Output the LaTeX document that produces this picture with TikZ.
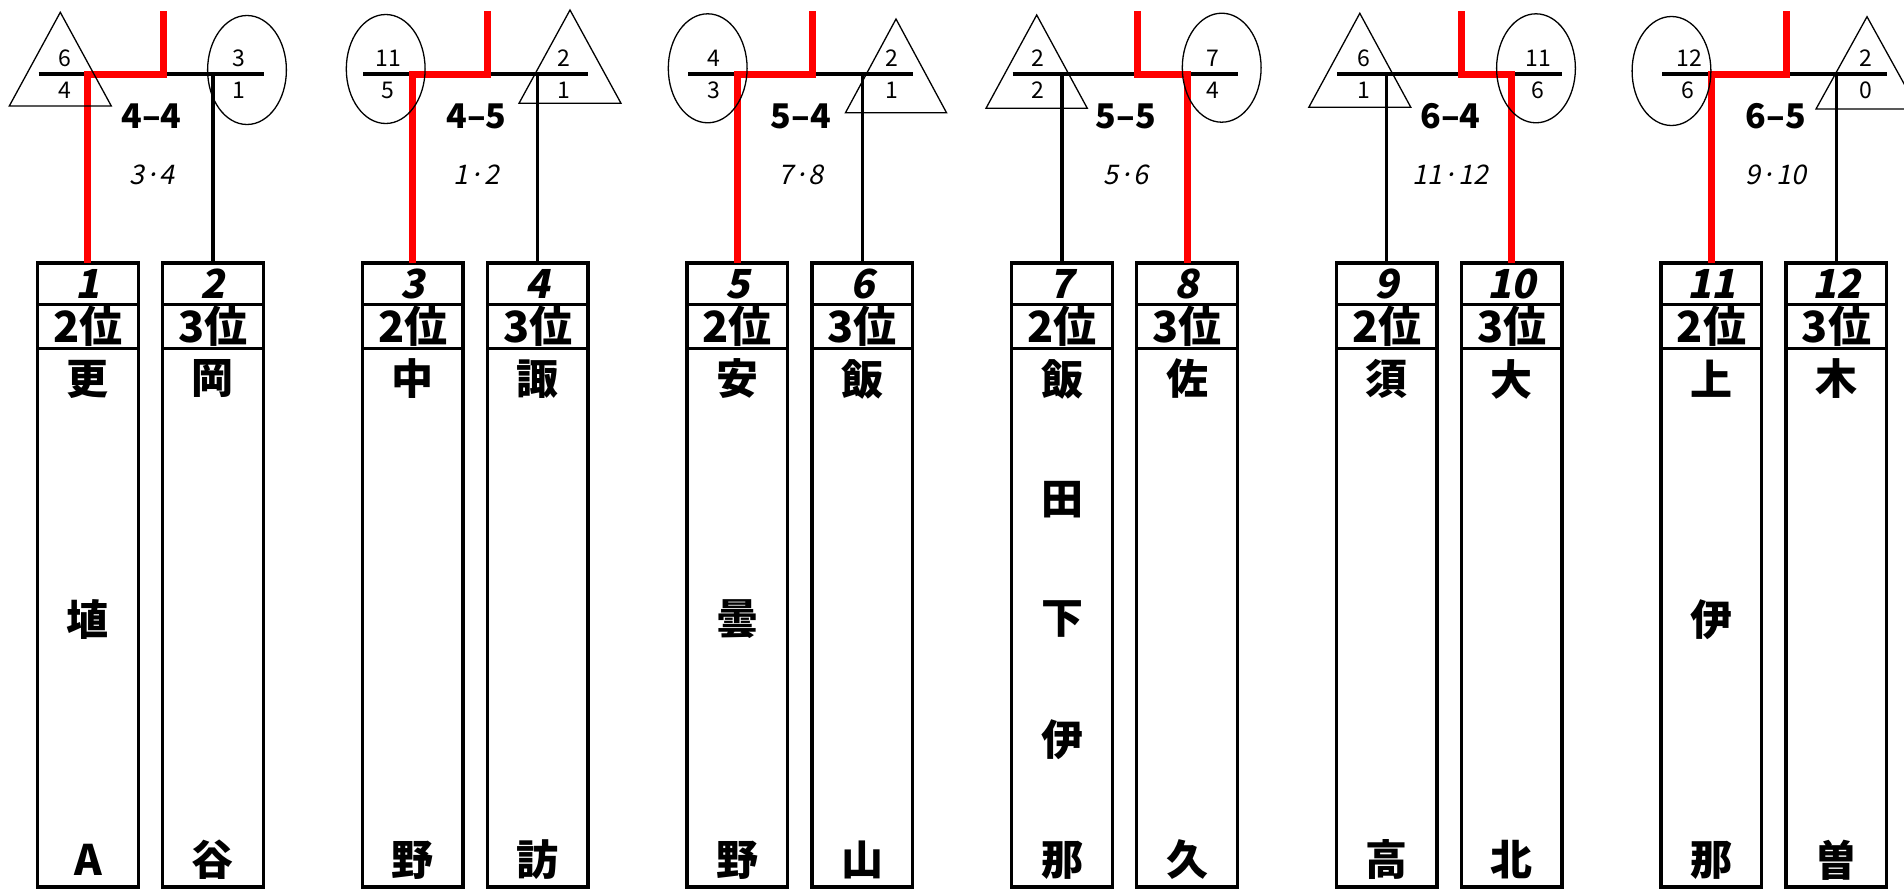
\documentclass[tikz,border=0pt]{standalone}
\usepackage{fontspec}
\newfontfamily\cjk{Noto Sans CJK JP}
\newfontfamily\cjksl{Noto Sans CJK JP}[FakeSlant=0.2]
\begin{document}
\begin{tikzpicture}[x=1pt,y=-1pt,
  blk/.style={line width=3.3pt},
  redl/.style={line width=7pt,red,line join=miter},
  thinl/.style={line width=1.3pt},
  boxl/.style={line width=3.3pt},
  sc/.style={font=\cjk\fontsize{23}{23}\selectfont,inner sep=0pt},
  ml/.style={font=\cjk\bfseries\fontsize{34}{34}\selectfont,inner sep=0pt},
  sl/.style={font=\cjksl\fontsize{27}{27}\selectfont,inner sep=0pt},
  bn/.style={font=\cjksl\bfseries\fontsize{40}{40}\selectfont,inner sep=0pt},
  rk/.style={font=\cjk\bfseries\fontsize{43}{43}\selectfont,inner sep=0pt},
  nm/.style={font=\cjk\bfseries\fontsize{42}{42}\selectfont,inner sep=0pt},
]
\useasboundingbox (0,0) rectangle (1904,889);
% boxes
\foreach \i/\x/\r/\n/\names in {
 1/37.6/2/3/{更,埴,A},
 2/162.6/3/2/{岡,谷},
 3/362.3/2/2/{中,野},
 4/487.3/3/2/{諏,訪},
 5/687.0/2/3/{安,曇,野},
 6/812.0/3/2/{飯,山},
 7/1011.7/2/5/{飯,田,下,伊,那},
 8/1136.7/3/2/{佐,久},
 9/1336.4/2/2/{須,高},
 10/1461.4/3/2/{大,北},
 11/1661.1/2/3/{上,伊,那},
 12/1786.1/3/2/{木,曽}}{
  \draw[boxl] (\x,263) rectangle (\x+100.7,887);
  \draw[boxl] (\x,304.5) -- (\x+100.7,304.5);
  \draw[boxl] (\x,348.7) -- (\x+100.7,348.7);
  \coordinate (top\i) at (\x+50.35,263);
  \node[bn] (num\i) at (\x+50.35,284) {\i};
  \node[rk] (rank\i) at (\x+50.35,326.6) {\r{}位};
  \foreach \c [count=\k] in \names {
    \node[nm] (nm\i-\k) at (\x+50.35,{379+(\k-1)*481/(\n-1)}) {\c};
  }
}
% bracket joints
\foreach \g/\L in {1/37.6,2/362.3,3/687.0,4/1011.7,5/1336.4,6/1661.1}{
  \coordinate (jl\g) at (\L+1,74);
  \coordinate (jr\g) at (\L+226,74);
  \coordinate (ja\g) at (\L+50.35,74);
  \coordinate (jb\g) at (\L+175.35,74);
  \coordinate (rt\g) at (\L+125.5,11);
  \coordinate (rm\g) at (\L+125.5,74);
  \draw[blk] (jl\g) -- (jr\g);
}
% losers (black)
\draw[blk] (jb1) -- (top2);
\draw[blk] (jb2) -- (top4);
\draw[blk] (jb3) -- (top6);
\draw[blk] (ja4) -- (top7);
\draw[blk] (ja5) -- (top9);
\draw[blk] (jb6) -- (top12);
% winners (red)
\draw[redl] (rt1) -- (rm1) -- (ja1) -- (top1);
\draw[redl] (rt2) -- (rm2) -- (ja2) -- (top3);
\draw[redl] (rt3) -- (rm3) -- (ja3) -- (top5);
\draw[redl] (rt4) -- (rm4) -- (jb4) -- (top8);
\draw[redl] (rt5) -- (rm5) -- (jb5) -- (top10);
\draw[redl] (rt6) -- (rm6) -- (ja6) -- (top11);
% shapes
\draw[thinl] (60.3,12.3) -- (9.3,106) -- (111.3,106) -- cycle;
\draw[thinl] (247,70) ellipse [x radius=39.4,y radius=54.5];
\draw[thinl] (385.7,69) ellipse [x radius=39.4,y radius=54.5];
\draw[thinl] (570,10) -- (519,103.3) -- (621,103.3) -- cycle;
\draw[thinl] (707.7,68.3) ellipse [x radius=39.4,y radius=54.5];
\draw[thinl] (896,19) -- (845.5,112.7) -- (946.5,112.7) -- cycle;
\draw[thinl] (1036.7,15) -- (986,108.3) -- (1087.3,108.3) -- cycle;
\draw[thinl] (1221.7,67.7) ellipse [x radius=39.4,y radius=54.5];
\draw[thinl] (1359.8,13.3) -- (1308.8,107.3) -- (1410.8,107.3) -- cycle;
\draw[thinl] (1536,68.3) ellipse [x radius=39.4,y radius=54.5];
\draw[thinl] (1671.5,71) ellipse [x radius=39.4,y radius=54.5];
\draw[thinl] (1867,16.7) -- (1816,109) -- (1918,109) -- cycle;
% scores
\node[sc] (s1a) at (65,58) {6};      \node[sc] (s1b) at (65,90) {4};
\node[sc] (s1c) at (239,58) {3};     \node[sc] (s1d) at (239,90) {1};
\node[sc] (s2a) at (388.3,58) {11};  \node[sc] (s2b) at (388.3,90) {5};
\node[sc] (s2c) at (564.3,58) {2};   \node[sc] (s2d) at (564.3,90) {1};
\node[sc] (s3a) at (714,58) {4};     \node[sc] (s3b) at (714,90) {3};
\node[sc] (s3c) at (892,58) {2};     \node[sc] (s3d) at (892,90) {1};
\node[sc] (s4a) at (1038.3,58) {2};  \node[sc] (s4b) at (1038.3,90) {2};
\node[sc] (s4c) at (1213.3,58) {7};  \node[sc] (s4d) at (1213.3,90) {4};
\node[sc] (s5a) at (1363.6,58) {6};  \node[sc] (s5b) at (1363.6,90) {1};
\node[sc] (s5c) at (1538,58) {11};   \node[sc] (s5d) at (1538,90) {6};
\node[sc] (s6a) at (1689,58) {12};   \node[sc] (s6b) at (1688,90) {6};
\node[sc] (s6c) at (1866,58) {2};    \node[sc] (s6d) at (1866,90) {0};
% match labels
\node[ml] (m1) at (151.6,116) {4–4};  \node[sl] (d1) at (151.6,175) {3·4};
\node[ml] (m2) at (476.5,116) {4–5};  \node[sl] (d2) at (476.5,175) {1·2};
\node[ml] (m3) at (801,116) {5–4};    \node[sl] (d3) at (801,175) {7·8};
\node[ml] (m4) at (1126,116) {5–5};   \node[sl] (d4) at (1126,175) {5·6};
\node[ml] (m5) at (1450.5,116) {6–4}; \node[sl] (d5) at (1450.5,175) {11·12};
\node[ml] (m6) at (1776,116) {6–5};   \node[sl] (d6) at (1776,175) {9·10};
\end{tikzpicture}
\end{document}
